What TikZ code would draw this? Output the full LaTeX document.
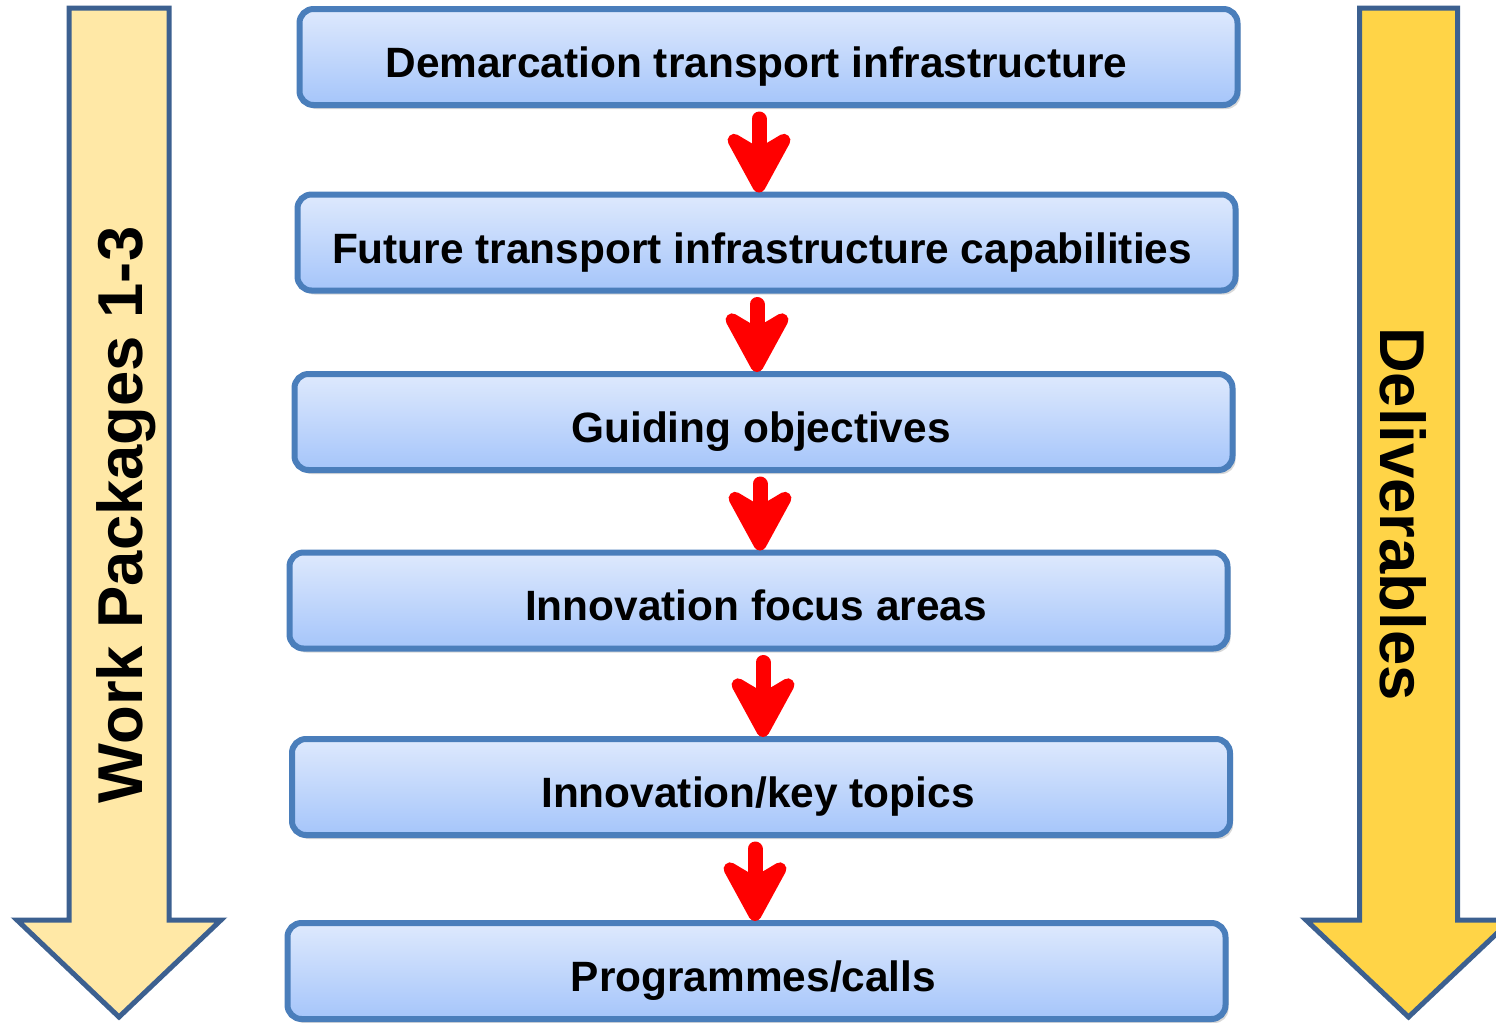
\documentclass[tikz,border=0pt]{standalone}
\usepackage{fontspec}
\setmainfont{Liberation Sans}
\usetikzlibrary{arrows.meta,shadows}
\definecolor{boxedge}{HTML}{4A7EBB}
\definecolor{boxtop}{HTML}{DEE9FD}
\definecolor{boxbot}{HTML}{A5C5FA}
\definecolor{bigedge}{HTML}{3C6090}
\definecolor{lightyel}{HTML}{FFE8A6}
\definecolor{darkyel}{HTML}{FFD447}
\definecolor{arrred}{HTML}{FF0000}
\begin{document}
\begin{tikzpicture}[x=0.5pt,y=-0.5pt,
 stagebox/.style={draw=boxedge, line width=3pt, rounded corners=7pt, top color=boxtop, bottom color=boxbot, minimum width=469pt, minimum height=48pt, inner sep=0pt, drop shadow={shadow xshift=1.5pt,shadow yshift=-2pt,opacity=0.3}},
 stagetext/.style={font=\fontsize{21.2}{25}\selectfont\bfseries, text height=15.2pt, text depth=0pt, inner sep=0pt},
 flowarrow/.style={draw=arrred, line width=7.5pt, line cap=round, -{Stealth[length=38pt,width=41pt,inset=12pt,round]}, shorten <=5.5pt, shorten >=-0.5pt},
 bigarrow/.style={draw=bigedge, line width=2.5pt, miter limit=10},
 sidetext/.style={font=\fontsize{31.7}{38}\selectfont\bfseries, text height=22.7pt, text depth=0pt, inner sep=0pt}]
\useasboundingbox (0,0) rectangle (1496,1023);
\begin{scope}
\clip (0,0) rectangle (1496,1023);
\fill[white] (0,0) rectangle (1496,1023);
% big side arrows
\draw[bigarrow, fill=lightyel] (69,8) -- (169,8) -- (169,920) -- (221,920) -- (119,1017) -- (17,920) -- (69,920) -- cycle;
\draw[bigarrow, fill=darkyel] (1359.5,8) -- (1457.5,8) -- (1457.5,920) -- (1511,920) -- (1408.5,1017) -- (1306,920) -- (1359.5,920) -- cycle;
\node[sidetext, rotate=90] (wp) at (120,515) {Work Packages 1-3};
\node[sidetext, rotate=-90] (del) at (1403.5,514) {Deliverables};
% stage boxes
\node[stagebox] (b1) at (768.5,57) {};
\node[stagebox] (b2) at (766.5,242.5) {};
\node[stagebox] (b3) at (763.5,422) {};
\node[stagebox] (b4) at (758.5,600.5) {};
\node[stagebox] (b5) at (761,787) {};
\node[stagebox] (b6) at (756.5,971) {};
\node[stagetext] (t1) at (756.5,62) {Demarcation transport infrastructure};
\node[stagetext] (t2) at (762,248) {Future transport infrastructure capabilities};
\node[stagetext] (t3) at (761,427) {Guiding objectives};
\node[stagetext] (t4) at (756,605.5) {Innovation focus areas};
\node[stagetext] (t5) at (758,792) {Innovation/key topics};
\node[stagetext] (t6) at (753.5,976) {Programmes/calls};
% red flow arrows
\coordinate (ax1) at (759,0);
\coordinate (ax2) at (757,0);
\coordinate (ax3) at (760,0);
\coordinate (ax4) at (763,0);
\coordinate (ax5) at (755,0);
\draw[flowarrow] (b1.south -| ax1) -- (b2.north -| ax1);
\draw[flowarrow] (b2.south -| ax2) -- (b3.north -| ax2);
\draw[flowarrow] (b3.south -| ax3) -- (b4.north -| ax3);
\draw[flowarrow] (b4.south -| ax4) -- (b5.north -| ax4);
\draw[flowarrow] (b5.south -| ax5) -- (b6.north -| ax5);
\end{scope}
\end{tikzpicture}
\end{document}
